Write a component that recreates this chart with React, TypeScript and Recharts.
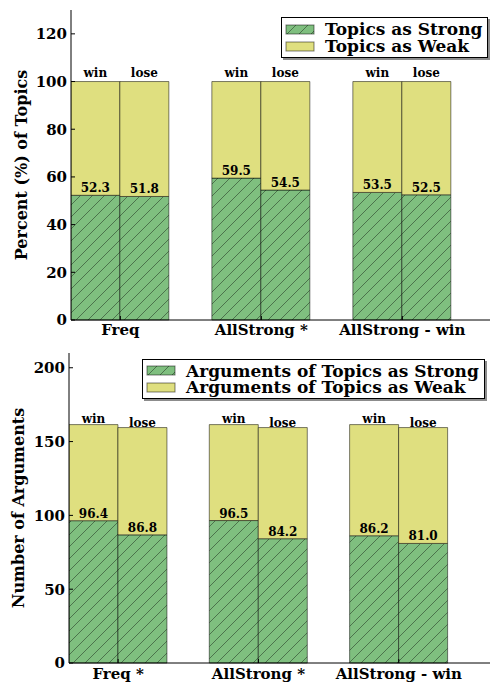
import { BarChart, Bar, XAxis, YAxis, LabelList, Legend } from 'recharts'

const FONT = '"DejaVu Serif", serif'
const GREEN = '#7fbf7f'
const YELLOW = '#dfdf7f'
const EDGE = 'rgba(0,0,0,0.5)'
const HATCH = 'url(#strongHatch)'

// top panel: percent of topics
const TOPIC_GROUPS = ['Freq', 'AllStrong *', 'AllStrong - win']
const TOPIC_STRONG_WIN = [52.3, 59.5, 53.5]
const TOPIC_WEAK_WIN = [47.7, 40.5, 46.5]
const TOPIC_STRONG_LOSE = [51.8, 54.5, 52.5]
const TOPIC_WEAK_LOSE = [48.2, 45.5, 47.5]
const TOPIC_TICKS = [0, 20, 40, 60, 80, 100, 120]
const TOPIC_NAMES = ['Topics as Strong', 'Topics as Weak']

// bottom panel: number of arguments
const ARG_GROUPS = ['Freq *', 'AllStrong *', 'AllStrong - win']
const ARG_STRONG_WIN = [96.4, 96.5, 86.2]
const ARG_WEAK_WIN = [65.1, 65.0, 75.3]
const ARG_STRONG_LOSE = [86.8, 84.2, 81.0]
const ARG_WEAK_LOSE = [72.7, 75.3, 78.5]
const ARG_TICKS = [0, 50, 100, 150, 200]
const ARG_NAMES = ['Arguments of Topics as Strong', 'Arguments of Topics as Weak']

const STACK_LABELS = ['win', 'lose']

const buildRows = (
  groups: string[],
  strongWin: number[],
  weakWin: number[],
  strongLose: number[],
  weakLose: number[],
) =>
  groups.map((name, i) => ({
    x: i,
    name,
    winStrong: strongWin[i],
    winWeak: weakWin[i],
    loseStrong: strongLose[i],
    loseWeak: weakLose[i],
  }))

const topicRows = buildRows(TOPIC_GROUPS, TOPIC_STRONG_WIN, TOPIC_WEAK_WIN, TOPIC_STRONG_LOSE, TOPIC_WEAK_LOSE)
const argRows = buildRows(ARG_GROUPS, ARG_STRONG_WIN, ARG_WEAK_WIN, ARG_STRONG_LOSE, ARG_WEAK_LOSE)

const tickStyle = { fontSize: 15, fontWeight: 'bold', fill: '#000', fontFamily: FONT }

const AxisTitle = ({ viewBox, text, cx }: any) => {
  const cy = viewBox.y + viewBox.height / 2
  return (
    <text
      x={cx}
      y={cy}
      transform={`rotate(-90, ${cx}, ${cy})`}
      textAnchor="middle"
      dominantBaseline="central"
      style={{ fontSize: 16, fontWeight: 'bold', fontFamily: FONT, fill: '#000' }}
    >
      {text}
    </text>
  )
}

const LegendBox = ({ payload, width, rowHeight }: any) => {
  const seen = new Set<string>()
  const items = (payload || []).filter((p: any) => {
    if (seen.has(p.value)) return false
    seen.add(p.value)
    return true
  })
  return (
    <div
      style={{
        width,
        boxSizing: 'border-box',
        border: '1.5px solid #000',
        background: '#fff',
        boxShadow: '2px 2px 0 rgba(0,0,0,0.45)',
        padding: '2.5px 0 2.5px 3px',
        fontFamily: FONT,
        fontWeight: 'bold',
        fontSize: 17,
        color: '#000',
        whiteSpace: 'nowrap',
      }}
    >
      {items.map((item: any) => (
        <div key={item.value} style={{ display: 'flex', alignItems: 'center', height: rowHeight }}>
          <svg width={30} height={11} style={{ display: 'block' }}>
            <rect x={1} y={1} width={28} height={9} fill={item.color} stroke={EDGE} />
          </svg>
          <span style={{ marginLeft: 10, lineHeight: `${rowHeight}px` }}>{item.value}</span>
        </div>
      ))}
    </div>
  )
}

interface PanelProps {
  rows: ReturnType<typeof buildRows>
  groups: string[]
  names: string[]
  yTicks: number[]
  yMax: number
  title: string
  height: number
  margin: { top: number; right: number; left: number; bottom: number }
  yAxisWidth: number
  xAxisHeight: number
  titleX: number
  xTickMargin: number
  legend: { left: number; top: number; width: number; rowHeight: number }
  winOffset: number
  loseOffset: number
}

const StackedPanel = ({
  rows,
  groups,
  names,
  yTicks,
  yMax,
  title,
  height,
  margin,
  yAxisWidth,
  xAxisHeight,
  titleX,
  xTickMargin,
  legend,
  winOffset,
  loseOffset,
}: PanelProps) => {
  const valueLabel = { fontSize: 12, fontWeight: 'bold', fill: '#000', fontFamily: FONT }
  return (
    <BarChart width={500} height={height} data={rows} margin={margin} barGap={0}>
      <XAxis
        dataKey="x"
        type="number"
        domain={[-0.35, 2.65]}
        ticks={[0, 1, 2]}
        allowDataOverflow
        interval={0}
        height={xAxisHeight}
        tickFormatter={(v) => groups[v]}
        tickSize={-4}
        tickMargin={xTickMargin}
        axisLine={{ stroke: '#000' }}
        tickLine={{ stroke: '#000' }}
        tick={tickStyle}
      />
      <XAxis
        xAxisId="top"
        orientation="top"
        dataKey="x"
        type="number"
        domain={[-0.35, 2.65]}
        ticks={[0, 1, 2]}
        allowDataOverflow
        height={0}
        tick={false}
        tickSize={-4}
        axisLine={{ stroke: '#000' }}
        tickLine={{ stroke: '#000' }}
      />
      <YAxis
        domain={[0, yMax]}
        ticks={yTicks}
        interval={0}
        width={yAxisWidth}
        tickSize={-4}
        tickMargin={8}
        axisLine={{ stroke: '#000' }}
        tickLine={{ stroke: '#000' }}
        tick={tickStyle}
        label={<AxisTitle text={title} cx={titleX} />}
      />
      <YAxis
        yAxisId="right"
        orientation="right"
        domain={[0, yMax]}
        ticks={yTicks}
        width={0}
        tick={false}
        tickSize={-4}
        axisLine={{ stroke: '#000' }}
        tickLine={{ stroke: '#000' }}
      />
      <Legend
        layout="vertical"
        align="center"
        verticalAlign="middle"
        wrapperStyle={{ left: legend.left, top: legend.top, width: legend.width, height: 'auto' }}
        content={(props: any) => <LegendBox {...props} width={legend.width} rowHeight={legend.rowHeight} />}
      />
      <Bar dataKey="winStrong" stackId="win" name={names[0]} fill={HATCH} stroke={EDGE} barSize={49} isAnimationActive={false}>
        <LabelList dataKey="winStrong" position="top" offset={3} formatter={(v: any) => Number(v).toFixed(1)} {...valueLabel} />
      </Bar>
      <Bar dataKey="winWeak" stackId="win" name={names[1]} fill={YELLOW} stroke={EDGE} barSize={49} isAnimationActive={false}>
        <LabelList position="top" offset={winOffset} formatter={() => STACK_LABELS[0]} {...valueLabel} />
      </Bar>
      <Bar dataKey="loseStrong" stackId="lose" name={names[0]} fill={HATCH} stroke={EDGE} barSize={49} isAnimationActive={false}>
        <LabelList dataKey="loseStrong" position="top" offset={3} formatter={(v: any) => Number(v).toFixed(1)} {...valueLabel} />
      </Bar>
      <Bar dataKey="loseWeak" stackId="lose" name={names[1]} fill={YELLOW} stroke={EDGE} barSize={49} isAnimationActive={false}>
        <LabelList position="top" offset={loseOffset} formatter={() => STACK_LABELS[1]} {...valueLabel} />
      </Bar>
    </BarChart>
  )
}

const App = () => {
  return (
    <div
      style={{
        position: 'absolute',
        left: 0,
        top: 0,
        width: 490,
        height: 682,
        overflow: 'hidden',
        background: '#fff',
      }}
    >
      <svg width={0} height={0} style={{ position: 'absolute' }}>
        <defs>
          <pattern id="strongHatch" patternUnits="userSpaceOnUse" width={12} height={12}>
            <rect width={12} height={12} fill={GREEN} />
            <path d="M0,12 L12,0 M-3,3 L3,-3 M9,15 L15,9" stroke="#3f5f3f" strokeWidth={0.8} />
          </pattern>
        </defs>
      </svg>
      <div style={{ position: 'absolute', left: 0, top: 0 }}>
        <StackedPanel
          rows={topicRows}
          groups={TOPIC_GROUPS}
          names={TOPIC_NAMES}
          yTicks={TOPIC_TICKS}
          yMax={130}
          title="Percent (%) of Topics"
          height={340}
          margin={{ top: 10, right: 6, left: 0, bottom: 0 }}
          yAxisWidth={71}
          xAxisHeight={20}
          titleX={21}
          xTickMargin={8}
          legend={{ left: 281, top: 17, width: 207, rowHeight: 17 }}
          winOffset={5}
          loseOffset={5}
        />
      </div>
      <div style={{ position: 'absolute', left: 0, top: 340 }}>
        <StackedPanel
          rows={argRows}
          groups={ARG_GROUPS}
          names={ARG_NAMES}
          yTicks={ARG_TICKS}
          yMax={210}
          title="Number of Arguments"
          height={342}
          margin={{ top: 13, right: 10, left: 0, bottom: 0 }}
          yAxisWidth={69}
          xAxisHeight={19}
          titleX={18}
          xTickMargin={9}
          legend={{ left: 142, top: 19, width: 343, rowHeight: 16.5 }}
          winOffset={2}
          loseOffset={1}
        />
      </div>
    </div>
  )
}

export default App
